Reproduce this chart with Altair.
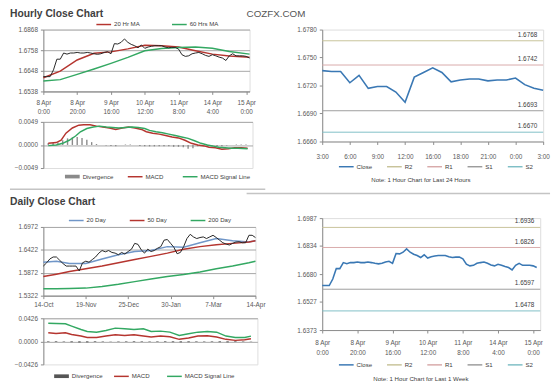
import altair as alt
import pandas as pd

FONT = "Liberation Sans"
TXT = "#595959"
AXC = "#8c8c8c"
GRID = "#a6a6a6"
RED = "#b5352f"
GREEN = "#33a862"
BLUE = "#3a78b4"
LBLUE = "#7096c8"

# ---------------- hourly (last week) ----------------
hourly_tick_hours = [0, 20, 40, 60, 80, 100, 120]
hourly_tick_labels = ["8 Apr|0:00", "8 Apr|20:00", "9 Apr|16:00", "10 Apr|12:00",
                      "11 Apr|8:00", "14 Apr|4:00", "15 Apr|0:00"]
hourly_hours = list(range(0, 124, 2))
hourly_close = [
    1.6617, 1.6617, 1.6617, 1.6653, 1.6710, 1.6710, 1.6743, 1.6737, 1.6743, 1.6743,
    1.6746, 1.6743, 1.6743, 1.6746, 1.6743, 1.6739, 1.6736, 1.6739, 1.6746, 1.6750,
    1.6739, 1.6793, 1.6791, 1.6800, 1.6818, 1.6800, 1.6789, 1.6782, 1.6771, 1.6786,
    1.6768, 1.6775, 1.6779, 1.6782, 1.6782, 1.6782, 1.6775, 1.6771, 1.6773, 1.6773,
    1.6764, 1.6734, 1.6725, 1.6728, 1.6739, 1.6743, 1.6746, 1.6739, 1.6730, 1.6725,
    1.6734, 1.6728, 1.6721, 1.6716, 1.6703, 1.6728, 1.6739, 1.6728, 1.6728, 1.6728,
    1.6725, 1.6716]
hourly_ma_hours = [0, 10, 20, 30, 40, 50, 60, 70, 80, 90, 100, 110, 122]
ma20_hr = [1.6611, 1.6646, 1.6706, 1.6742, 1.6749, 1.6765, 1.6784, 1.6782, 1.6775,
           1.6755, 1.6737, 1.6727, 1.6720]
ma60_hr = [1.6594, 1.6601, 1.6629, 1.6658, 1.6688, 1.6720, 1.6755, 1.6767, 1.6772,
           1.6775, 1.6768, 1.6751, 1.6737]
hourly_macd_hours = [0, 5, 8, 11, 15, 19, 22, 26, 30, 34, 38, 42, 46, 50, 54, 58, 61, 65,
                     69, 73, 77, 81, 85, 89, 93, 97, 100, 104, 108, 112, 116, 120, 124]
hourly_macd = [0.00035, 0.0005, 0.0010, 0.0025, 0.0036, 0.0042, 0.0043, 0.0043, 0.0040,
               0.0038, 0.0036, 0.0033, 0.0036, 0.0038, 0.0036, 0.0033, 0.0028, 0.0025,
               0.0023, 0.0020, 0.0017, 0.0015, 0.0010, 0.00035, 0.0, -0.0002, -0.0005,
               -0.0006, -0.0009, -0.0008, -0.0006, -0.0006, -0.0007]
hourly_signal_hours = [0, 5, 9, 13, 17, 20, 24, 28, 32, 36, 40, 44, 48, 52, 56, 60, 63, 67,
                       71, 75, 79, 83, 87, 91, 95, 99, 102, 106, 110, 114, 118, 124]
hourly_signal = [-0.00014, 0.0, 0.00035, 0.0010, 0.0019, 0.0028, 0.0035, 0.0038, 0.0040,
                 0.0038, 0.0037, 0.0036, 0.0037, 0.0038, 0.0037, 0.0035, 0.0031, 0.0028,
                 0.0026, 0.0023, 0.0020, 0.0017, 0.0014, 0.0009, 0.00035, 0.0, -0.0002,
                 -0.0005, -0.0006, -0.0007, -0.0007, -0.0008]
hourly_div_hours = list(range(0, 124, 3))
hourly_div = [0.0004, 0.0004, 0.0005, 0.0010, 0.0014, 0.0016, 0.0017, 0.0015, 0.0011, 0.0006,
              0.0002, 0.0000, -0.0001, -0.0002, -0.0003, 0.0000, 0.0001, 0.0001, 0.0000, -0.0002,
              -0.0003, -0.0003, -0.0003, -0.0003, -0.0003, -0.0003, -0.0004, -0.0004, -0.0005, -0.0008,
              -0.0007, -0.0003, -0.0002, -0.0002, -0.0001, -0.0002, -0.0003, -0.0001, 0.0000, 0.0001,
              0.0001, 0.0001]

# ---------------- last 24 hours ----------------
last24_index = list(range(25))
last24_ticks = [0, 3, 6, 9, 12, 15, 18, 21, 24]
last24_labels = ["3:00", "6:00", "9:00", "12:00", "16:00", "18:00", "21:00", "0:00", "3:00"]
last24_close = [1.6736, 1.6735, 1.6735, 1.6723, 1.6731, 1.6717, 1.6719, 1.6719, 1.6713,
                1.6702, 1.6729, 1.6734, 1.6739, 1.6734, 1.6724, 1.6726, 1.6727, 1.6727,
                1.6725, 1.6726, 1.6726, 1.6728, 1.6721, 1.6717, 1.6715]

level_names = ["R2", "R1", "S1", "S2"]
levels_24h = [1.6768, 1.6742, 1.6693, 1.6670]
levels_week = [1.6936, 1.6826, 1.6597, 1.6478]

# ---------------- daily ----------------
daily_ticks = [0, 26, 52, 78, 104, 130]
daily_tick_labels = ["14-Oct", "19-Nov", "25-Dec", "30-Jan", "7-Mar", "14-Apr"]
daily_days = list(range(0, 132, 2))
daily_close = [
    1.6033, 1.6111, 1.6204, 1.6251, 1.6251, 1.6173, 1.6095, 1.6033, 1.6033, 1.6033,
    1.6033, 1.5916, 1.6111, 1.6150, 1.6126, 1.6189, 1.6251, 1.6344, 1.6406, 1.6375,
    1.6406, 1.6360, 1.6344, 1.6305, 1.6360, 1.6321, 1.6383, 1.6438, 1.6578, 1.6554,
    1.6422, 1.6344, 1.6438, 1.6383, 1.6406, 1.6461, 1.6500, 1.6655, 1.6671, 1.6578,
    1.6484, 1.6329, 1.6360, 1.6500, 1.6694, 1.6795, 1.6733, 1.6694, 1.6718, 1.6733,
    1.6694, 1.6733, 1.6772, 1.6718, 1.6655, 1.6593, 1.6562, 1.6539, 1.6578, 1.6609,
    1.6617, 1.6593, 1.6593, 1.6772, 1.6772, 1.6718]
daily_ma_days = [0, 8, 16, 26, 36, 46, 56, 66, 76, 86, 96, 106, 116, 126, 130]
ma20_d = [1.6126, 1.6150, 1.6095, 1.6095, 1.6204, 1.6305, 1.6383, 1.6406, 1.6500, 1.6484,
          1.6593, 1.6694, 1.6640, 1.6609, 1.6640]
ma50_d = [1.5784, 1.5839, 1.5901, 1.5971, 1.6033, 1.6111, 1.6189, 1.6266, 1.6344, 1.6438,
          1.6500, 1.6546, 1.6578, 1.6609, 1.6640]
ma200_d = [1.5488, 1.5488, 1.5496, 1.5504, 1.5543, 1.5597, 1.5660, 1.5722, 1.5784, 1.5831,
           1.5893, 1.5971, 1.6033, 1.6111, 1.6150]
daily_macd_days = [0, 5, 11, 15, 21, 25, 31, 37, 43, 49, 55, 61, 66, 72, 78, 84, 90, 96,
                   102, 108, 114, 120, 126, 130]
daily_signal = [0.0335, 0.0329, 0.0323, 0.0280, 0.0219, 0.0183, 0.0170, 0.0201, 0.0244, 0.0231,
                0.0219, 0.0231, 0.0183, 0.0189, 0.0170, 0.0110, 0.0140, 0.0170, 0.0183, 0.0170,
                0.0097, 0.0073, 0.0073, 0.0097]
daily_macd = [0.0158, 0.0146, 0.0158, 0.0128, 0.0097, 0.0073, 0.0073, 0.0097, 0.0122, 0.0110,
              0.0122, 0.0097, 0.0079, 0.0097, 0.0085, 0.0037, 0.0061, 0.0097, 0.0104, 0.0079,
              0.0037, 0.0018, 0.0030, 0.0049]
daily_div_days = list(range(0, 131, 5))
daily_div = [-0.0010, -0.0012, -0.0008, -0.0015, -0.0020, -0.0018, -0.0012, -0.0008, -0.0005, -0.0008,
             -0.0010, -0.0012, -0.0010, -0.0008, -0.0010, -0.0012, -0.0015, -0.0018, -0.0015, -0.0010,
             -0.0008, -0.0010, -0.0015, -0.0018, -0.0012, -0.0008, -0.0005]


# ---------------- helpers ----------------
def js_list(items):
    return "[" + ",".join("'" + s + "'" for s in items) + "]"


def legend(x, y, pad, symbol="stroke"):
    return alt.Legend(orient="none", legendX=x, legendY=y, direction="horizontal", title=None,
                      symbolType=symbol, symbolSize=225, symbolStrokeWidth=1.5,
                      labelFontSize=6.2, labelColor="#404040", labelFont=FONT,
                      columnPadding=pad, labelOffset=2, padding=0)


def yaxis(values, grid=True, hide_neg_grid=False):
    kw = dict(values=values, format=".4f", labelFontSize=6.5, labelColor=TXT, labelFont=FONT,
              tickSize=3, tickColor=AXC, domainColor=AXC, labelPadding=3, minExtent=34,
              labelOverlap=False, grid=grid, title=None)
    if grid:
        kw["gridColor"] = GRID
        if hide_neg_grid:
            kw["gridOpacity"] = alt.condition("datum.value < 0", alt.value(0), alt.value(1))
    return alt.Axis(**kw)


def xaxis(values, expr, pad, lh=9, note=None, note_pad=0, note_x=0):
    kw = dict(values=values, labelExpr=expr, labelFontSize=6.5, labelColor=TXT, labelFont=FONT,
              tickSize=3, tickColor=AXC, domainColor=AXC, labelPadding=pad, labelLineHeight=lh,
              labelFlush=False, labelOverlap=False, grid=False, labelBaseline="top")
    if note:
        kw.update(title=note, titleFontSize=6.2, titleFontWeight="normal", titleColor="#404040",
                  titleFont=FONT, titlePadding=note_pad, titleX=note_x)
    else:
        kw["title"] = None
    return alt.Axis(**kw)


hourly_expr = "split(" + js_list(hourly_tick_labels) + "[round(datum.value/20)], '|')"
daily_expr = js_list(daily_tick_labels) + "[round(datum.value/26)]"
last24_expr = js_list(last24_labels) + "[round(datum.value/3)]"
sep_df = pd.DataFrame({"k": [0]})

# ---------------- hourly price panel ----------------
df_hc = pd.DataFrame({"h": hourly_hours, "v": hourly_close})
df_hma = pd.DataFrame({"h": hourly_ma_hours * 2, "v": ma20_hr + ma60_hr,
                       "s": ["20 Hr MA"] * len(ma20_hr) + ["60 Hrs MA"] * len(ma60_hr)})
x_hp = alt.X("h:Q", scale=alt.Scale(domain=[0, 122], nice=False, zero=False),
             axis=xaxis(hourly_tick_hours, hourly_expr, 5, 9))
y_hp = alt.Y("v:Q", scale=alt.Scale(domain=[1.6538, 1.6868], nice=False, zero=False),
             axis=yaxis([1.6538, 1.6648, 1.6758, 1.6868]))
hp = alt.layer(
    alt.Chart(df_hma).mark_line(strokeWidth=1.5).encode(
        x=x_hp, y=y_hp,
        color=alt.Color("s:N", scale=alt.Scale(domain=["20 Hr MA", "60 Hrs MA"], range=[RED, GREEN]),
                        legend=legend(53, -13.8, 29))),
    alt.Chart(df_hc).mark_line(color="#262626", strokeWidth=1).encode(x=x_hp, y=y_hp),
).properties(width=210, height=63,
             title=alt.TitleParams("Hourly Close Chart", anchor="start", frame="group", dx=-34,
                                   fontSize=10.5, fontWeight="bold", color="#404040", font=FONT,
                                   offset=-3.5))

# ---------------- hourly MACD panel ----------------
df_hdiv = pd.DataFrame({"h": hourly_div_hours, "v": hourly_div, "sd": "Divergence"})
df_hmacd = pd.DataFrame({"h": hourly_macd_hours + hourly_signal_hours,
                         "v": hourly_macd + hourly_signal,
                         "s": ["MACD"] * len(hourly_macd) + ["MACD Signal Line"] * len(hourly_signal)})
x_hm = alt.X("h:Q", scale=alt.Scale(domain=[0, 124], nice=False, zero=False), axis=None)
y_hm = alt.Y("v:Q", scale=alt.Scale(domain=[-0.0049, 0.0049], nice=False, zero=False),
             axis=yaxis([-0.0049, 0, 0.0049], hide_neg_grid=True))
RECT = "M-1,-0.25H1V0.25H-1Z"
hm = alt.layer(
    alt.Chart(df_hdiv).mark_bar(size=1.4).encode(
        x=x_hm, y=y_hm, y2=alt.datum(0),
        color=alt.Color("sd:N", scale=alt.Scale(domain=["Divergence"], range=["#8a8a8a"]),
                        legend=legend(21, 47.2, 16, RECT))),
    alt.Chart(df_hmacd).mark_line(strokeWidth=1.5).encode(
        x=x_hm, y=y_hm,
        color=alt.Color("s:N", scale=alt.Scale(domain=["MACD", "MACD Signal Line"], range=[RED, GREEN]),
                        legend=legend(85, 47.2, 16))),
    alt.Chart(sep_df).mark_rule(color="#c4c4c4", strokeWidth=1.5).encode(
        x=alt.value(-34), x2=alt.value(226), y=alt.value(68.7)),
).resolve_scale(color="independent").properties(width=213, height=47)

# ---------------- daily price panel ----------------
df_dc = pd.DataFrame({"d": daily_days, "v": daily_close})
df_dma = pd.DataFrame({"d": daily_ma_days * 3, "v": ma20_d + ma50_d + ma200_d,
                       "s": ["20 Day"] * len(ma20_d) + ["50 Day"] * len(ma50_d) + ["200 Day"] * len(ma200_d)})
x_dp = alt.X("d:Q", scale=alt.Scale(domain=[0, 130], nice=False, zero=False),
             axis=xaxis(daily_ticks, daily_expr, 3, 9))
y_dp = alt.Y("v:Q", scale=alt.Scale(domain=[1.5322, 1.6972], nice=False, zero=False),
             axis=yaxis([1.5322, 1.5872, 1.6422, 1.6972]))
dp = alt.layer(
    alt.Chart(df_dma).mark_line(strokeWidth=1.5).encode(
        x=x_dp, y=y_dp,
        color=alt.Color("s:N", scale=alt.Scale(domain=["20 Day", "50 Day", "200 Day"],
                                               range=[LBLUE, RED, GREEN]),
                        legend=legend(25, -15.2, 21))),
    alt.Chart(df_dc).mark_line(color="#262626", strokeWidth=1).encode(x=x_dp, y=y_dp),
).properties(width=216, height=70,
             title=alt.TitleParams("Daily Close Chart", anchor="start", frame="group", dx=-34,
                                   fontSize=10.5, fontWeight="bold", color="#404040", font=FONT,
                                   offset=5))

# ---------------- daily MACD panel ----------------
df_ddiv = pd.DataFrame({"d": daily_div_days, "v": daily_div, "sd": "Divergence"})
df_dmacd = pd.DataFrame({"d": daily_macd_days * 2, "v": daily_macd + daily_signal,
                         "s": ["MACD"] * len(daily_macd) + ["MACD Signal Line"] * len(daily_signal)})
x_dm = alt.X("d:Q", scale=alt.Scale(domain=[0, 131], nice=False, zero=False), axis=None)
y_dm = alt.Y("v:Q", scale=alt.Scale(domain=[-0.0426, 0.0426], nice=False, zero=False),
             axis=yaxis([-0.0426, 0, 0.0426], hide_neg_grid=True))
dm = alt.layer(
    alt.Chart(df_ddiv).mark_bar(size=2.5).encode(
        x=x_dm, y=y_dm, y2=alt.datum(0),
        color=alt.Color("sd:N", scale=alt.Scale(domain=["Divergence"], range=["#555555"]),
                        legend=legend(10, 50.5, 11, RECT))),
    alt.Chart(df_dmacd).mark_line(strokeWidth=1.5).encode(
        x=x_dm, y=y_dm,
        color=alt.Color("s:N", scale=alt.Scale(domain=["MACD", "MACD Signal Line"], range=[RED, GREEN]),
                        legend=legend(71, 50.5, 14))),
).resolve_scale(color="independent").properties(width=218, height=47)

# ---------------- right panels ----------------
lvl_dom = ["Close"] + level_names
lvl_rng = [BLUE, "#c8c39a", "#d8aaaa", "#9c9c9c", "#7fbfc6"]


def right_panel(df_close, x_field, x_scale, x_axis, levels, ydom, yvals, xmax, legend_y, sep):
    df_lv = pd.DataFrame({"s": level_names, "v": levels})
    x = alt.X(x_field, scale=x_scale, axis=x_axis)
    xd = alt.X(datum=xmax, scale=x_scale, axis=x_axis)
    y = alt.Y("v:Q", scale=alt.Scale(domain=ydom, nice=False, zero=False), axis=yaxis(yvals, grid=False))
    col = alt.Color("s:N", scale=alt.Scale(domain=lvl_dom, range=lvl_rng), legend=legend(16, legend_y, 12))
    layers = [
        alt.Chart(df_lv).mark_rule(strokeWidth=1).encode(y=y, color=col),
        alt.Chart(df_lv).mark_text(align="right", baseline="middle", dx=-6, dy=-6, fontSize=6.5,
                                   color="#404040", font=FONT).encode(
            x=xd, y=y, text=alt.Text("v:Q", format=".4f")),
        alt.Chart(df_close).mark_line(strokeWidth=1.6).encode(x=x, y=y, color=col),
    ]
    if sep is not None:
        layers.append(alt.Chart(sep_df).mark_rule(color="#c4c4c4", strokeWidth=1.5).encode(
            x=alt.value(-77), x2=alt.value(232), y=alt.value(sep)))
    return alt.layer(*layers)


df_24 = pd.DataFrame({"i": last24_index, "v": last24_close, "s": "Close"})
rt = right_panel(df_24, "i:Q", alt.Scale(domain=[0, 24], nice=False, zero=False),
                 xaxis(last24_ticks, last24_expr, 9, 9, "Note: 1 Hour Chart for Last 24 Hours", 17, 100),
                 levels_24h, [1.6660, 1.6780],
                 [1.6660, 1.6690, 1.6720, 1.6750, 1.6780], 24, 131, None).properties(
    width=225, height=114,
    title=alt.TitleParams("COZFX.COM", anchor="start", frame="group", dx=-77, fontSize=10,
                          fontWeight="normal", color="#555555", font=FONT, offset=8))

df_wk = pd.DataFrame({"h": hourly_hours, "v": hourly_close, "s": "Close"})
rb = right_panel(df_wk, "h:Q", alt.Scale(domain=[0, 124], nice=False, zero=False),
                 xaxis(hourly_tick_hours, hourly_expr, 7, 10, "Note: 1 Hour Chart for Last 1 Week", 20, 100),
                 levels_week, [1.6373, 1.6987],
                 [1.6373, 1.6527, 1.6680, 1.6834, 1.6987], 124, 140.8, -25).properties(width=222, height=114)

left = alt.vconcat(
    alt.vconcat(hp, hm, spacing=3).resolve_scale(color="independent"),
    alt.vconcat(dp, dm, spacing=6).resolve_scale(color="independent"),
    spacing=5,
).resolve_scale(color="independent")
right = alt.vconcat(rt, rb, spacing=8).resolve_scale(color="independent")

chart = alt.hconcat(left, right, spacing=-23).resolve_scale(color="independent").properties(
    padding={"top": -3.5, "bottom": 0, "left": 0, "right": 0}, background="white"
).configure_view(stroke=None).configure(font=FONT)

chart.save("out.html", embed_options={"renderer": "svg", "actions": False})
